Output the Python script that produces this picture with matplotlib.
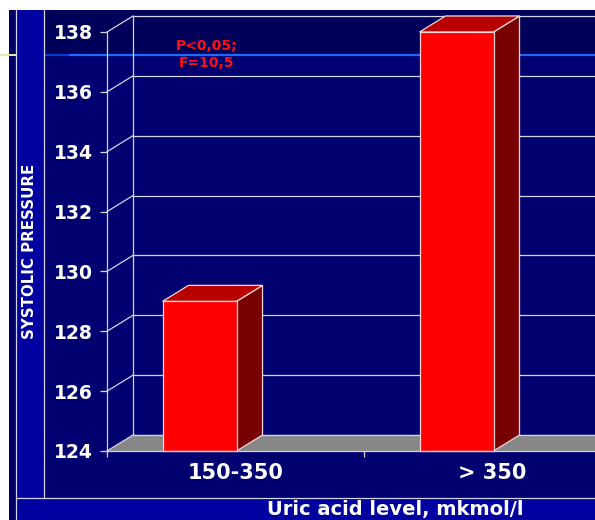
import matplotlib
matplotlib.use("Agg")
import matplotlib.pyplot as plt
from matplotlib.patches import Polygon, Rectangle
from matplotlib.lines import Line2D
import matplotlib.transforms as mtransforms
import numpy as np

# ---------------- data ----------------
categories = ["150-350", "> 350"]
values = [129.0, 138.0]
y_ticks = [124, 126, 128, 130, 132, 134, 136, 138]
y_min, y_max = 124, 138
x_label = "Uric acid level, mkmol/l"
y_label = "SYSTOLIC PRESSURE"
note = "P<0,05;\nF=10,5"

# ---------------- styling ----------------
W, H, DPI = 595, 520, 100
DX, DY = 26, 16           # depth offset in pixels
BAR_SHIFT, BAR_W = -0.14, 0.288
LC = "#d4d4e4"
RED, RED_TOP, RED_SIDE = "#ff0000", "#b80000", "#780000"
EDGE = "#f2d6d6"

fig = plt.figure(figsize=(W / DPI, H / DPI), dpi=DPI, facecolor="white")


def fx(x):
    return x / W


def fy(y):
    return 1 - y / H


def frect(x0, y0, x1, y1, color, z):
    fig.patches.append(Rectangle((fx(x0), fy(y1)), fx(x1) - fx(x0), fy(y0) - fy(y1),
                                 transform=fig.transFigure, facecolor=color,
                                 edgecolor="none", zorder=z))


def fline(xs, ys, color, lw, z):
    fig.lines.append(Line2D([fx(x) for x in xs], [fy(y) for y in ys],
                            transform=fig.transFigure, color=color, lw=lw, zorder=z))


# slide-like background panels
frect(9, 10, W, H, "#000066", -20)
frect(16, 10, 43.5, 497.5, "#0000a0", -19)
frect(16, 498.5, W, H, "#0000a0", -19)
frect(44.5, 10, W, 497.5, "#000070", -19)
frect(44.5, 10, W, 54, "#00005a", -18)
fline([15.5, 15.5], [10, H], LC, 0.9, -15)
fline([44, 44], [10, 498], LC, 0.9, -15)
fline([16, W], [498, 498], LC, 0.9, -15)
fline([0, 15], [55, 55], "#f0e6b0", 1.4, -15)
fline([45, 70], [55, 55], "#0a3ac8", 1.6, -16)
fline([70, W], [55, 55], "#1e6aff", 1.6, -16)

# ---------------- axes (front plane) ----------------
ax = fig.add_axes([fx(107), fy(451), (621 - 107) / W, (451 - 32) / H])
ax.patch.set_visible(False)
ax.set_xlim(-0.5, 1.5)
ax.set_ylim(y_min, y_max)
ax.set_autoscale_on(False)

ident = mtransforms.IdentityTransform()
T_back = ax.transData + mtransforms.ScaledTranslation(DX / DPI, DY / DPI, fig.dpi_scale_trans)


def disp(x, y):
    return ax.transData.transform((x, y))


def poly(pts, fc, ec="none", lw=0.0, z=2):
    p = Polygon(pts, closed=True, transform=ident, facecolor=fc, edgecolor=ec,
                lw=lw, zorder=z, clip_on=False)
    ax.add_artist(p)


def seg(p0, p1, color=LC, lw=0.9, z=1.5):
    ax.add_artist(Line2D([p0[0], p1[0]], [p0[1], p1[1]], transform=ident,
                         color=color, lw=lw, zorder=z, clip_on=False))


off = np.array([DX, DY])

# back wall gridlines and left-wall edge
for t in y_ticks:
    ax.plot([-0.5, 1.5], [t, t], transform=T_back, color=LC, lw=0.9,
            clip_on=False, zorder=1)
ax.plot([-0.5, -0.5], [y_min, y_max], transform=T_back, color=LC, lw=0.9,
        clip_on=False, zorder=1)

# floor
fl, fr = disp(-0.5, y_min), disp(1.5, y_min)
poly([fl, fr, fr + off, fl + off], "#878787", z=1.2)
ax.plot([-0.5, 1.5], [y_min, y_min], transform=T_back, color=LC, lw=0.9,
        clip_on=False, zorder=1.3)

# diagonal lines on the left wall
for t in y_ticks:
    p = disp(-0.5, t)
    seg(p, p + off, z=1.5)

# bars
xs = np.arange(len(categories)) + BAR_SHIFT
heights = [v - y_min for v in values]
bars = ax.bar(xs, heights, BAR_W, bottom=y_min, color=RED, edgecolor=EDGE,
              lw=0.9, zorder=5, clip_on=False)
for b in bars:
    x0, x1 = b.get_x(), b.get_x() + b.get_width()
    yt = b.get_y() + b.get_height()
    a, c, d = disp(x0, yt), disp(x1, yt), disp(x1, b.get_y())
    poly([d, c, c + off, d + off], RED_SIDE, EDGE, 0.9, z=4)
    poly([a, c, c + off, a + off], RED_TOP, EDGE, 0.9, z=4)

# spines and ticks
for s in ("top", "right"):
    ax.spines[s].set_visible(False)
for s in ("left", "bottom"):
    ax.spines[s].set_color(LC)
    ax.spines[s].set_linewidth(0.9)
    ax.spines[s].set_zorder(6)

ax.set_yticks(y_ticks)
ax.set_yticklabels([str(t) for t in y_ticks])
ax.tick_params(axis="y", colors=LC, labelcolor="white", length=5, width=0.9,
               direction="out", pad=5, labelsize=13.5)
ax.set_xticks([-0.5, 0.5, 1.5])
ax.set_xticklabels([])
ax.tick_params(axis="x", which="major", colors=LC, length=4.5, width=0.9, direction="out")
ax.set_xticks([0, 1], minor=True)
ax.set_xticklabels(categories, minor=True)
ax.tick_params(axis="x", which="minor", length=0, pad=8.5, labelsize=15, labelcolor="white")
for lab in ax.get_yticklabels() + ax.get_xticklabels(minor=True):
    lab.set_fontweight("bold")

# annotation
ax.text(-0.111, 137.25, note, color="#ff1010", fontsize=10, fontweight="bold",
        ha="center", va="center", multialignment="center", linespacing=1.25,
        zorder=7)

# axis titles
fig.text(fx(30), fy(251), y_label, rotation=90, color="white", fontsize=10.8,
         fontweight="bold", ha="center", va="center")
fig.text(fx(395), fy(509), x_label, color="white", fontsize=14,
         fontweight="bold", ha="center", va="center")

fig.savefig("out.png", dpi=DPI, facecolor="white")
